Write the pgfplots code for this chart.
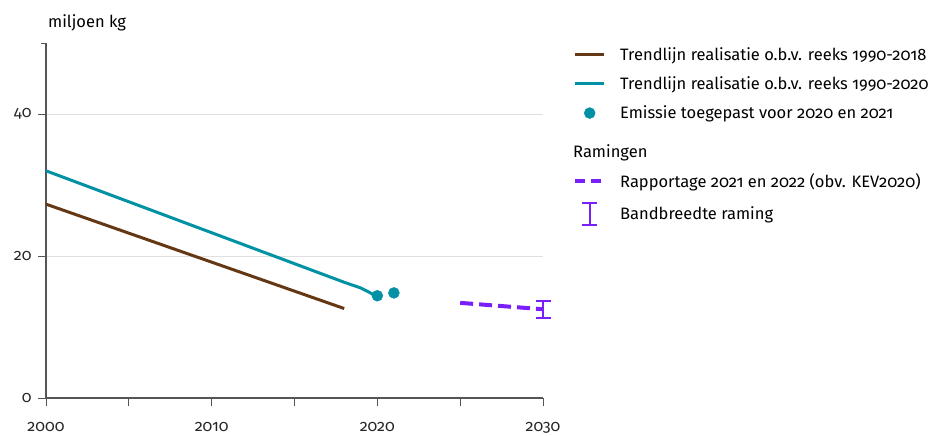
\documentclass[border=0pt]{standalone}
\usepackage{fontspec}
\setmainfont{Fira Sans}[Numbers=OldStyle, Ligatures=NoCommon]
\usepackage{pgfplots}
\pgfplotsset{compat=1.18}

\definecolor{brownc}{RGB}{100,56,20}
\definecolor{tealc}{RGB}{0,145,165}
\definecolor{purplec}{RGB}{122,30,250}
\definecolor{axisc}{RGB}{85,85,85}

\begin{document}
\begin{tikzpicture}
\begin{axis}[
    scale only axis,
    width=497bp, height=355bp,
    xmin=2000, xmax=2030,
    ymin=0, ymax=50,
    axis x line*=bottom,
    axis y line*=left,
    axis line style={axisc, line width=1.2bp},
    xtick={2000,2010,2020,2030},
    minor xtick={2005,2015,2025},
    ytick={0,20,40},
    extra y ticks={50},
    extra y tick labels={},
    extra y tick style={major tick length=5bp, grid=none},
    tick align=outside,
    major tick length=8bp,
    minor tick length=8bp,
    tick style={axisc, line width=0.8bp},
    ymajorgrids,
    major grid style={gray!25, line width=0.8bp},
    /pgf/number format/1000 sep={},
    /pgf/number format/assume math mode=true,
    tick label style={font=\fontsize{16bp}{19bp}\selectfont, text=black!85},
    xticklabel style={yshift=-13bp},
    yticklabel style={xshift=-3bp},
    clip=false,
    legend style={
        at={(rel axis cs:1,1)}, anchor=north west,
        xshift=30bp, yshift=-2bp,
        draw=none, fill=none, inner sep=0pt,
        font=\fontsize{16.5bp}{19.5bp}\selectfont,
        row sep=11bp,
        /tikz/every odd column/.append style={column sep=12bp},
    },
    legend cell align=left,
]
% trendlijn 1990-2018
\addplot[brownc, line width=3bp, forget plot] coordinates {
    (2000,27.3) (2018,12.6)
};
% trendlijn 1990-2020
\addplot[tealc, line width=3bp, forget plot] coordinates {
    (2000,32.0) (2018,16.3) (2019,15.5) (2020,14.3)
};
% emissie toegepast
\addplot[only marks, mark=*, mark size=5.5bp, tealc, forget plot] coordinates {
    (2020,14.4) (2021,14.8)
};
% rapportage 2021 en 2022
\addplot[purplec, line width=4bp, dash pattern=on 13bp off 6bp, forget plot] coordinates {
    (2025,13.4) (2030,12.5)
};
% bandbreedte
\addplot[draw=none, mark=none, forget plot,
    error bars/.cd, y dir=both, y explicit,
    error bar style={purplec, line width=1.6bp},
    error mark options={purplec, rotate=90, mark size=7.5bp, line width=1.6bp}]
    coordinates {(2030,12.5) +- (0,1.2)};

\node[anchor=south west, font=\fontsize{16.5bp}{19.5bp}\selectfont, inner sep=0pt]
    at (rel axis cs:0,1) [yshift=12bp, xshift=2bp] {miljoen kg};

\addlegendimage{legend image code/.code={\draw[brownc, line width=3bp] (0bp,0bp) -- (29bp,0bp);}}
\addlegendentry{Trendlijn realisatie o.b.v. reeks 1990-2018}
\addlegendimage{legend image code/.code={\draw[tealc, line width=3bp] (0bp,0bp) -- (29bp,0bp);}}
\addlegendentry{Trendlijn realisatie o.b.v. reeks 1990-2020}
\addlegendimage{legend image code/.code={\fill[tealc] (14.5bp,0bp) circle (5.5bp);}}
\addlegendentry{Emissie toegepast voor 2020 en 2021}
\addlegendimage{empty legend}
\addlegendentry{\hspace{-47bp}\raisebox{0pt}[22bp][0pt]{Ramingen}}
\addlegendimage{legend image code/.code={\draw[purplec, line width=4bp, dash pattern=on 10bp off 6bp] (0bp,0bp) -- (29bp,0bp);}}
\addlegendentry{Rapportage 2021 en 2022 (obv. KEV2020)}
\addlegendimage{legend image code/.code={\draw[purplec, line width=1.6bp] (7bp,-11bp) -- (22bp,-11bp) (14.5bp,-11bp) -- (14.5bp,11bp) (7bp,11bp) -- (22bp,11bp);}}
\addlegendentry{Bandbreedte raming}
\end{axis}
\pgfresetboundingbox
\path (current axis.south west) ++(-46bp,-38bp) rectangle ++(931bp,436bp);
\end{tikzpicture}
\end{document}
